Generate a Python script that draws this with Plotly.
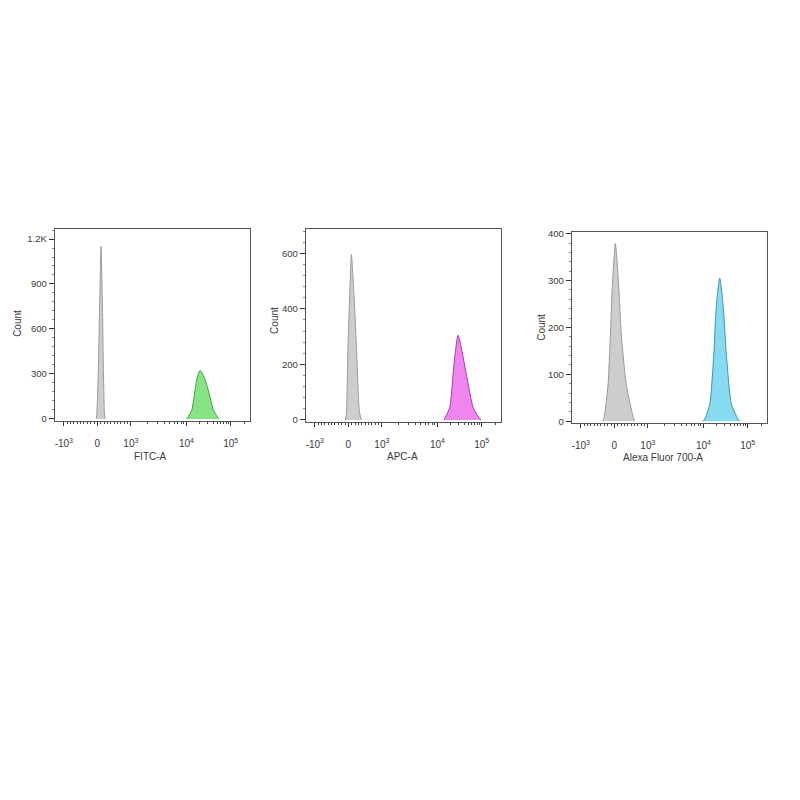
import numpy as np
import plotly.graph_objects as go

# ---------------- data (raw fluorescence values, counts) ----------------
# biexponential display: linear for |v| <= 1e3, log decades beyond
DECADE_VALUES = [1e3, 1e4, 1e5]
DECADE_POS = [1.0, 2.66, 3.98]

X_TICK_VALUES = [-1e3, 0, 1e3, 1e4, 1e5]
X_TICK_TEXT = ["-10<sup>3</sup>", "0", "10<sup>3</sup>", "10<sup>4</sup>", "10<sup>5</sup>"]
X_MINOR_VALUES = ([v for v in range(-900, 1000, 100) if v != 0]
                  + [m * 1e3 for m in range(2, 10)]
                  + [m * 1e4 for m in range(2, 10)]
                  + [2e5])

# Panel 1 : FITC-A
fitc_ctrl_x = [-40, -20, 0, 30, 70, 110, 150, 180, 210, 230]
fitc_ctrl_y = [0, 20, 120, 337, 775, 1150, 775, 337, 40, 0]
fitc_pos_x = [10000, 11000, 13200, 15600, 17600, 20300, 25000, 31200, 40600, 52600, 56000]
fitc_pos_y = [0, 15, 60, 191, 280, 323, 280, 191, 60, 5, 0]

# Panel 2 : APC-A
apc_ctrl_x = [-90, -60, -10, 40, 90, 170, 240, 330, 390]
apc_ctrl_y = [0, 20, 270, 447, 595, 447, 270, 30, 0]
apc_pos_x = [14000, 15100, 19000, 22500, 25400, 29200, 36000, 45000, 63800, 85000, 98000]
apc_pos_y = [0, 10, 45, 163, 246, 305, 246, 163, 45, 10, 0]

# Panel 3 : Alexa Fluor 700-A
af_ctrl_x = [-340, -300, -190, -120, -60, 30, 130, 210, 360, 560, 610]
af_ctrl_y = [0, 10, 76, 182, 288, 379, 288, 182, 76, 10, 0]
af_pos_x = [9800, 10700, 13900, 17100, 19600, 23300, 27700, 32900, 42700, 60000, 66000]
af_pos_y = [0, 5, 37, 143, 249, 305, 249, 143, 37, 5, 0]

Y_TICKS = [[0, 300, 600, 900, 1200], [0, 200, 400, 600], [0, 100, 200, 300, 400]]
Y_TICK_TEXT = [["0", "300", "600", "900", "1.2K"], ["0", "200", "400", "600"],
               ["0", "100", "200", "300", "400"]]
Y_MINOR_STEP = [60, 40, 20]
Y_RANGES = [[-13, 1270], [-6, 689], [-4, 404]]
X_TITLES = ["FITC-A", "APC-A", "Alexa Fluor 700-A"]


def to_axis(v):
    v = np.asarray(v, dtype=float)
    a = np.abs(v)
    out = np.where(a <= 1e3, a / 1e3, 0.0)
    lg = np.log10(np.maximum(a, 1e3))
    dec1 = DECADE_POS[0] + (lg - 3) * (DECADE_POS[1] - DECADE_POS[0])
    dec2 = DECADE_POS[1] + (lg - 4) * (DECADE_POS[2] - DECADE_POS[1])
    out = np.where(a > 1e3, np.where(lg <= 4, dec1, dec2), out)
    return np.sign(v) * out


panels = [
    (fitc_ctrl_x, fitc_ctrl_y, fitc_pos_x, fitc_pos_y, "#86e386", "#3f9f3f"),
    (apc_ctrl_x, apc_ctrl_y, apc_pos_x, apc_pos_y, "#f085f0", "#a03ca0"),
    (af_ctrl_x, af_ctrl_y, af_pos_x, af_pos_y, "#86daf2", "#3f93aa"),
]

# pixel layout (page has an 8px body offset)
OFF = 8
X_LEFT_PX = [54.8, 305.8, 571.8]
PANEL_W = 195
Y_TOP_PX = [226.7, 226.7, 230.0]
Y_BOT_PX = [421.0, 421.7, 423.3]
X_RANGE = [-1.27, 4.55]


def px_x(p):
    return (p - OFF) / 800


def px_y(p):
    return 1 - (p - OFF) / 800


fig = go.Figure()
FONT = "Liberation Sans, Arial, sans-serif"
TXT = "#3a3a3a"

for i, (cx, cy, px, py, fc, lc) in enumerate(panels):
    xa = "x" if i == 0 else f"x{i+1}"
    ya = "y" if i == 0 else f"y{i+1}"
    fig.add_trace(go.Scatter(x=to_axis(px), y=py, xaxis=xa, yaxis=ya, mode="lines",
                             fill="tozeroy", fillcolor=fc, line_shape="spline",
                             line=dict(color=lc, width=1, smoothing=0.6), showlegend=False))
    fig.add_trace(go.Scatter(x=to_axis(cx), y=cy, xaxis=xa, yaxis=ya, mode="lines",
                             fill="tozeroy", fillcolor="rgba(202,202,202,0.95)",
                             line_shape="spline",
                             line=dict(color="#9a9a9a", width=1, smoothing=0.6), showlegend=False))

    xk = "xaxis" if i == 0 else f"xaxis{i+1}"
    yk = "yaxis" if i == 0 else f"yaxis{i+1}"
    x0 = px_x(X_LEFT_PX[i])
    x1 = px_x(X_LEFT_PX[i] + PANEL_W)
    y0 = px_y(Y_BOT_PX[i])
    y1 = px_y(Y_TOP_PX[i])
    fig.layout[xk] = dict(
        domain=[x0, x1], range=X_RANGE, anchor=ya,
        showline=True, linecolor="#555", linewidth=1, mirror=True,
        showgrid=False, zeroline=False,
        tickmode="array", tickvals=to_axis(X_TICK_VALUES).tolist(), ticktext=X_TICK_TEXT,
        ticks="outside", ticklen=4, tickcolor="#333", tickwidth=1,
        ticklabelstandoff=9,
        tickfont=dict(family=FONT, size=10, color=TXT),
        minor=dict(tickmode="array", tickvals=to_axis(X_MINOR_VALUES).tolist(),
                   ticks="outside", ticklen=2, tickcolor="#444", tickwidth=1),
    )
    fig.layout[yk] = dict(
        domain=[y0, y1], range=Y_RANGES[i], anchor=xa,
        showline=True, linecolor="#555", linewidth=1, mirror=True,
        showgrid=False, zeroline=False,
        tickmode="array", tickvals=Y_TICKS[i], ticktext=Y_TICK_TEXT[i],
        ticks="outside", ticklen=5, tickcolor="#333", tickwidth=1,
        tickfont=dict(family=FONT, size=9.5, color=TXT),
        minor=dict(tickmode="linear", tick0=0, dtick=Y_MINOR_STEP[i],
                   ticks="outside", ticklen=2, tickcolor="#888", tickwidth=1),
    )

# axis titles as annotations (pixel positions of their centres)
X_TITLE_POS = [(150, 457), (402, 457), (663, 458)]
Y_TITLE_POS = [(18, 323), (275, 320), (542, 327)]
for (tx, ty), t in zip(X_TITLE_POS, X_TITLES):
    fig.add_annotation(x=px_x(tx), y=px_y(ty), xref="paper", yref="paper", text=t,
                       xanchor="center", yanchor="middle",
                       showarrow=False, font=dict(family=FONT, size=10, color=TXT))
for (tx, ty) in Y_TITLE_POS:
    fig.add_annotation(x=px_x(tx), y=px_y(ty), xref="paper", yref="paper", text="Count",
                       xanchor="center", yanchor="middle",
                       textangle=-90, showarrow=False, font=dict(family=FONT, size=10, color=TXT))

fig.update_layout(width=800, height=800, autosize=False,
                  margin=dict(l=0, r=0, t=0, b=0),
                  paper_bgcolor="white", plot_bgcolor="white")

fig.write_html("out.html")
